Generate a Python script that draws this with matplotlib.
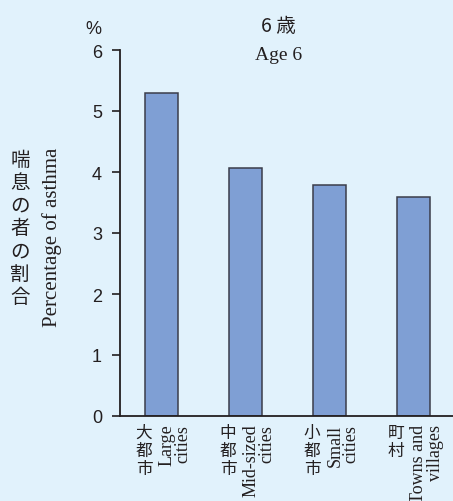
import matplotlib.pyplot as plt
from matplotlib.transforms import blended_transform_factory

# data
cats_ja = ["大\n都\n市", "中\n都\n市", "小\n都\n市", "町\n村"]
cats_en = ["Large\ncities", "Mid-sized\ncities", "Small\ncities", "Towns and\nvillages"]
values = [5.3, 4.06, 3.78, 3.59]
yticks = [0, 1, 2, 3, 4, 5, 6]

plt.rcParams["font.family"] = ["Liberation Sans", "DejaVu Sans"]

bg = "#e1f2fc"
bar_color = "#7f9fd4"
ink = "#231f20"

fig = plt.figure(figsize=(4.53, 5.02), dpi=100, facecolor=bg)
ax = fig.add_axes([120 / 453, 85 / 502, 333 / 453, 366 / 502])
ax.set_facecolor(bg)

x = list(range(len(values)))
ax.bar(x, values, width=0.39, color=bar_color, edgecolor="#3a3d4a", linewidth=1.1, zorder=2)

ax.set_xlim(-0.494, 3.47)
ax.set_ylim(0, 6)
ax.set_yticks(yticks)
ax.set_xticks([])
for side in ["top", "right"]:
    ax.spines[side].set_visible(False)
for side in ["left", "bottom"]:
    ax.spines[side].set_color(ink)
    ax.spines[side].set_linewidth(1.3)
ax.tick_params(axis="y", direction="out", length=6, width=1.2, color=ink,
               pad=7, labelsize=13, labelcolor=ink)

# category labels: Japanese stacked vertically + rotated English
tr = blended_transform_factory(ax.transData, ax.transAxes)
for xi, ja, en in zip(x, cats_ja, cats_en):
    ax.annotate(ja, xy=(xi, 0), xycoords=tr, xytext=(-12.6, -5.5),
                textcoords="offset points", ha="center", va="top",
                fontsize=12, linespacing=1.1, family="Noto Sans CJK JP", color=ink)
    ax.annotate(en, xy=(xi, 0), xycoords=tr, xytext=(9.8, -5.5),
                textcoords="offset points", ha="center", va="top",
                rotation=90, multialignment="right", linespacing=0.95,
                fontsize=13, family="Liberation Serif", color=ink)

# titles and axis labels
fig.text(278 / 453, 1 - 26 / 502, "6 歳", ha="center", va="center",
         fontsize=14, family="Noto Sans CJK JP", color=ink)
fig.text(279 / 453, 1 - 55 / 502, "Age 6", ha="center", va="center",
         fontsize=14, family="Liberation Serif", color=ink)
fig.text(93 / 453, 1 - 30 / 502, "%", ha="center", va="center",
         fontsize=13, family="Liberation Sans", color=ink)
fig.text(20 / 453, 1 - 229 / 502, "喘\n息\nの\n者\nの\n割\n合", ha="center", va="center",
         fontsize=14, linespacing=1.12, family="Noto Sans CJK JP", color=ink)
fig.text(52 / 453, 1 - 237 / 502, "Percentage of asthma", ha="center", va="center",
         rotation=90, fontsize=15, family="Liberation Serif", color=ink)

fig.savefig("out.png", dpi=100, facecolor=bg)
